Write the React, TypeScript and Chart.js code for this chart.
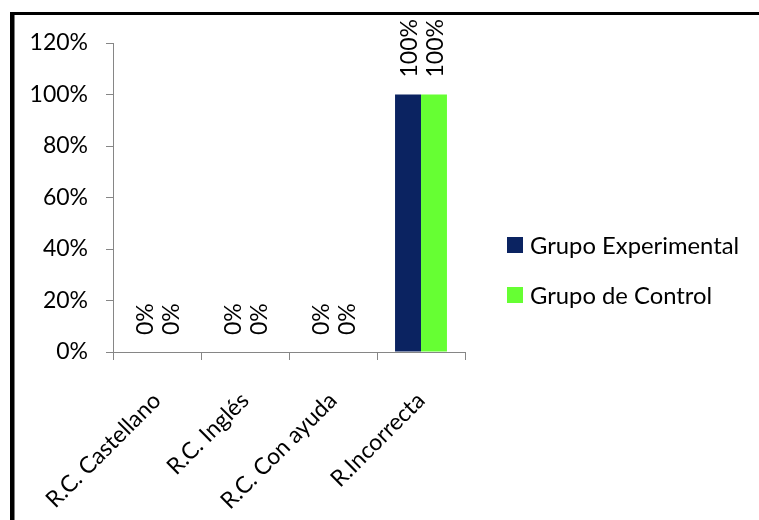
import React, { useEffect, useRef } from "react";
import { Chart, registerables } from "chart.js";

Chart.register(...registerables);

const categories = ["R.C. Castellano", "R.C. Inglés", "R.C. Con ayuda", "R.Incorrecta"];
const seriesNames = ["Grupo Experimental", "Grupo de Control"];
const experimental = [0, 0, 0, 100];
const control = [0, 0, 0, 100];
const seriesColors = ["#0B2361", "#66FF33"];
const yTicks = [0, 20, 40, 60, 80, 100, 120];

const FONT = "Lato, 'Open Sans', sans-serif";
const FS = 23;

const borderPlugin = {
  id: "frame",
  afterDraw(chart: any) {
    const ctx = chart.ctx;
    ctx.save();
    ctx.fillStyle = "#000";
    ctx.fillRect(10, 12, chart.width - 10, 3);
    ctx.fillRect(10, 12, 4.5, chart.height - 12);
    ctx.restore();
  },
};

const valueLabelPlugin = {
  id: "valueLabels",
  afterDatasetsDraw(chart: any) {
    const ctx = chart.ctx;
    ctx.save();
    ctx.fillStyle = "#000";
    ctx.font = `${FS}px ${FONT}`;
    ctx.textAlign = "left";
    ctx.textBaseline = "middle";
    chart.data.datasets.forEach((ds: any, di: number) => {
      const meta = chart.getDatasetMeta(di);
      meta.data.forEach((el: any, i: number) => {
        ctx.save();
        ctx.translate(el.x + 2, el.y - 17);
        ctx.rotate(-Math.PI / 2);
        ctx.fillText(ds.data[i] + "%", 0, 0);
        ctx.restore();
      });
    });
    ctx.restore();
  },
};

const legendPlugin = {
  id: "sideLegend",
  afterDraw(chart: any) {
    const ctx = chart.ctx;
    const x0 = chart.chartArea.right + 42;
    ctx.save();
    ctx.font = `23.8px ${FONT}`;
    ctx.textAlign = "left";
    ctx.textBaseline = "middle";
    chart.data.datasets.forEach((ds: any, i: number) => {
      const cy = 245 + i * 50;
      ctx.fillStyle = ds.backgroundColor;
      ctx.fillRect(x0, cy - 8, 16, 16);
      ctx.fillStyle = "#000";
      ctx.fillText(ds.label, x0 + 23, cy + 1);
    });
    ctx.restore();
  },
};

export default function App() {
  const ref = useRef<HTMLCanvasElement | null>(null);
  useEffect(() => {
    if (!ref.current) return;
    const chart = new Chart(ref.current, {
      type: "bar",
      data: {
        labels: categories,
        datasets: [
          { label: seriesNames[0], data: experimental, backgroundColor: seriesColors[0], categoryPercentage: 0.59, barPercentage: 1 },
          { label: seriesNames[1], data: control, backgroundColor: seriesColors[1], categoryPercentage: 0.59, barPercentage: 1 },
        ],
      },
      options: {
        animation: false,
        responsive: false,
        devicePixelRatio: 1,
        layout: { padding: { top: 43, right: 294, bottom: 0, left: 0 } },
        plugins: { legend: { display: false }, tooltip: { enabled: false } },
        scales: {
          x: {
            offset: true,
            grid: { display: true, drawOnChartArea: false, drawTicks: true, tickLength: 8, color: "#868686", offset: true },
            border: { display: true, color: "#868686", width: 1 },
            ticks: { maxRotation: 45, minRotation: 45, color: "#000", padding: 27, font: { family: FONT, size: FS } },
            afterFit: (s: any) => { s.height = 168; },
          },
          y: {
            min: 0,
            max: 120,
            afterBuildTicks: (s: any) => { s.ticks = yTicks.map((v) => ({ value: v })); },
            grid: { display: true, drawOnChartArea: false, drawTicks: true, tickLength: 7, color: "#868686" },
            border: { display: true, color: "#868686", width: 1 },
            ticks: { color: "#000", padding: 18, font: { family: FONT, size: FS }, callback: (v: any) => v + "%" },
            afterFit: (s: any) => { s.width = 113; },
          },
        },
      },
      plugins: [valueLabelPlugin, legendPlugin, borderPlugin],
    });
    return () => chart.destroy();
  }, []);
  return (
    <div style={{ position: "fixed", left: 0, top: 0, width: 759, height: 520, background: "#fff" }}>
      <canvas ref={ref} width={759} height={520} style={{ display: "block" }} />
    </div>
  );
}
